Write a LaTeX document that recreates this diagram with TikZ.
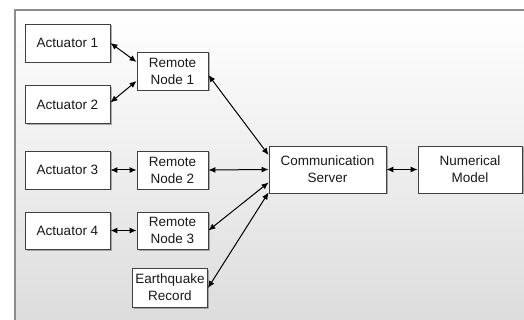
\documentclass[tikz,border=0pt]{standalone}
\usepackage{fontspec}
\setmainfont{Liberation Sans}
\usetikzlibrary{arrows.meta,shadows}
\begin{document}
\begin{tikzpicture}[x=1pt,y=-1pt,
  box/.style={draw=black!75, line width=0.9pt, fill=white, align=center, inner sep=1pt,
    font=\fontsize{13.5}{17}\selectfont, text=black!90,
    drop shadow={shadow xshift=1.5pt, shadow yshift=-1.5pt, fill=black!60, opacity=0.5}},
  link/.style={line width=1pt, {Latex[length=7pt,width=6pt]}-{Latex[length=7pt,width=6pt]}}]
\useasboundingbox (0,0) rectangle (524,320);
\fill[white] (0,0) rectangle (524,320);
\shade[top color=white, bottom color=black!14] (15,10) rectangle (530,330);
\draw[black!45, line width=1.6pt] (15,330) -- (15,10) -- (530,10);
\node[box, minimum width=85pt, minimum height=38pt] (a1) at (67.5,43) {Actuator 1};
\node[box, minimum width=85pt, minimum height=38pt] (a2) at (67.5,104.5) {Actuator 2};
\node[box, minimum width=71pt, minimum height=38pt] (rn1) at (172.5,71) {Remote\\Node 1};
\node[box, minimum width=85pt, minimum height=38pt] (a3) at (67.5,170) {Actuator 3};
\node[box, minimum width=71pt, minimum height=38pt] (rn2) at (172.5,170) {Remote\\Node 2};
\node[box, minimum width=85pt, minimum height=37pt] (a4) at (67.5,230.5) {Actuator 4};
\node[box, minimum width=71pt, minimum height=37pt] (rn3) at (172.5,230.5) {Remote\\Node 3};
\node[box, minimum width=75pt, minimum height=39pt] (eq) at (170,287.5) {Earthquake\\Record};
\node[box, minimum width=117pt, minimum height=47pt] (cs) at (327.5,169.5) {Communication\\Server};
\node[box, minimum width=104pt, minimum height=47pt] (nm) at (470,169.5) {Numerical\\Model};
\draw[link] (a1.east) -- ([yshift=9pt]rn1.west);
\draw[link] ([yshift=2pt]a2.east) -- ([yshift=-10pt]rn1.west);
\draw[link] ([yshift=-4pt]rn1.east) -- ([yshift=14.5pt]cs.west);
\draw[link] (a3.east) -- (rn2.west);
\draw[link] (rn2.east) -- (cs.west);
\draw[link] (a4.east) -- (rn3.west);
\draw[link] (rn3.east) -- ([yshift=-13pt]cs.west);
\draw[link] ([yshift=-0.5pt]eq.east) -- ([yshift=1pt]cs.south west);
\draw[link] (cs.east) -- (nm.west);
\end{tikzpicture}
\end{document}
